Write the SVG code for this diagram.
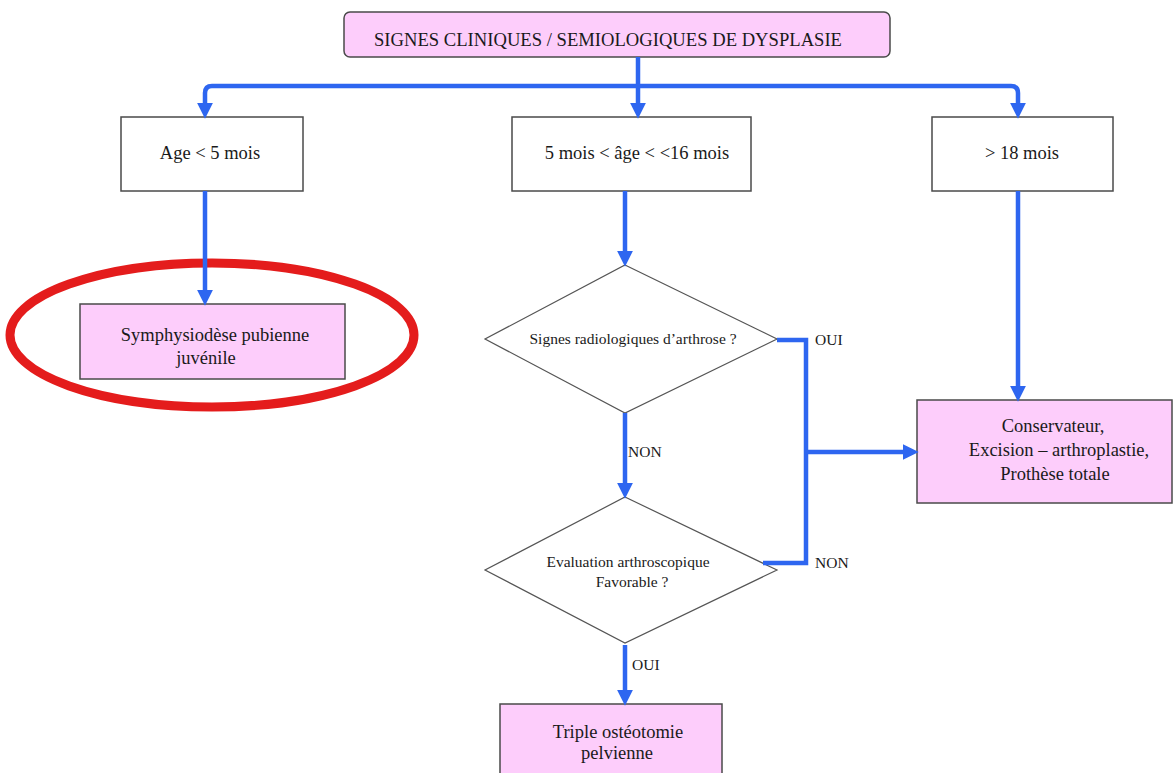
<svg xmlns="http://www.w3.org/2000/svg" width="1175" height="773" viewBox="0 0 1175 773">
<style>
.t{font-family:"Liberation Serif","Times New Roman",serif;fill:#1a1a1a;text-anchor:middle}
.b{font-size:18.5px}
.d{font-size:15.5px}
.l{font-family:"Liberation Serif","Times New Roman",serif;fill:#1a1a1a;font-size:15.5px}
.pink{fill:#fdcdfb;stroke:#4a4a4a;stroke-width:1.5}
.white{fill:#ffffff;stroke:#4a4a4a;stroke-width:1.5}
.dia{fill:#ffffff;stroke:#555555;stroke-width:1.2}
.c{fill:none;stroke:#2e66f0;stroke-width:4.5}
</style>
<defs>
<marker id="ah" markerUnits="userSpaceOnUse" markerWidth="16" markerHeight="16" viewBox="0 0 14 14" refX="2" refY="7" orient="auto">
<path d="M0,0 L14,7 L0,14 Z" fill="#2e66f0"/>
</marker>
</defs>
<rect width="1175" height="773" fill="#ffffff"/>

<g id="title">
<rect class="pink" x="344" y="12" width="546" height="45" rx="6"/>
<text class="t b" x="608" y="46" textLength="468" lengthAdjust="spacingAndGlyphs">SIGNES CLINIQUES / SEMIOLOGIQUES DE DYSPLASIE</text>
</g>

<g id="age-lt5">
<rect class="white" x="121" y="117" width="182" height="74"/>
<text class="t b" x="210" y="159">Age &lt; 5 mois</text>
</g>

<g id="age-5-16">
<rect class="white" x="512" y="117" width="239" height="74"/>
<text class="t b" x="637" y="159">5 mois &lt; âge &lt; &lt;16 mois</text>
</g>

<g id="age-gt18">
<rect class="white" x="932" y="117" width="181" height="74"/>
<text class="t b" x="1022" y="159">&gt; 18 mois</text>
</g>

<g id="symphysiodese">
<rect class="pink" x="80" y="304" width="265" height="75"/>
<text class="t b" x="215" y="341">Symphysiodèse pubienne</text>
<text class="t b" x="206" y="364">juvénile</text>
<ellipse cx="212" cy="335" rx="202" ry="72" fill="none" stroke="#e41c1c" stroke-width="9"/>
</g>

<g id="signes-radio">
<polygon class="dia" points="625,265 777,339 625,413 485,339"/>
<text class="t d" x="633" y="344">Signes radiologiques d’arthrose ?</text>
</g>

<g id="evaluation">
<polygon class="dia" points="625,497 777,570 625,643 485,570"/>
<text class="t d" x="628" y="567">Evaluation arthroscopique</text>
<text class="t d" x="632" y="587">Favorable ?</text>
</g>

<g id="conservateur">
<rect class="pink" x="917" y="400" width="255" height="103"/>
<text class="t b" x="1053" y="432">Conservateur,</text>
<text class="t b" x="1059" y="456">Excision – arthroplastie,</text>
<text class="t b" x="1055" y="480">Prothèse totale</text>
</g>

<g id="triple">
<rect class="pink" x="500" y="704" width="222" height="80"/>
<text class="t b" x="618" y="738">Triple ostéotomie</text>
<text class="t b" x="617" y="759">pelvienne</text>
</g>

<g id="connectors">
<path class="c" d="M638,57 V105" marker-end="url(#ah)"/>
<path class="c" d="M638,86 H212 Q205,86 205,93 V105" marker-end="url(#ah)"/>
<path class="c" d="M638,86 H1011 Q1018,86 1018,93 V105" marker-end="url(#ah)"/>
<path class="c" d="M205,191 V292" marker-end="url(#ah)"/>
<path class="c" d="M625,191 V253" marker-end="url(#ah)"/>
<path class="c" d="M1018,191 V388" marker-end="url(#ah)"/>
<path class="c" d="M625,413 V485" marker-end="url(#ah)"/>
<path class="c" d="M625,645 V692" marker-end="url(#ah)"/>
<path class="c" d="M777,340 H806 V563 H763"/>
<path class="c" d="M806,452 H905" marker-end="url(#ah)"/>
</g>

<g id="labels">
<text class="l" x="815" y="345">OUI</text>
<text class="l" x="628" y="457">NON</text>
<text class="l" x="815" y="568">NON</text>
<text class="l" x="632" y="670">OUI</text>
</g>
</svg>
